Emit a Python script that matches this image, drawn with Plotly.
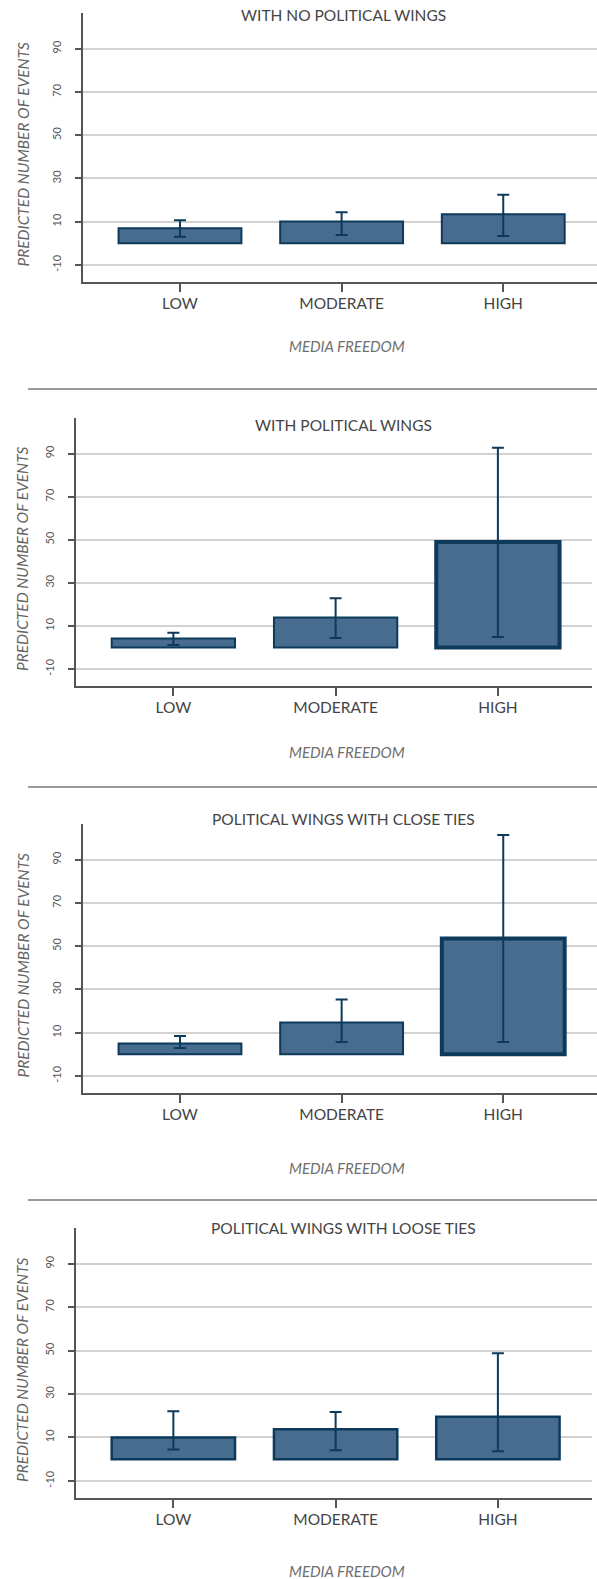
import plotly.graph_objects as go

# ---------------- data ----------------
categories = ["LOW", "MODERATE", "HIGH"]
panel_titles = ["WITH NO POLITICAL WINGS", "WITH POLITICAL WINGS",
                "POLITICAL WINGS WITH CLOSE TIES", "POLITICAL WINGS WITH LOOSE TIES"]

no_wings_value = [7.0, 10.1, 13.4]
no_wings_upper = [10.7, 14.4, 22.4]
no_wings_lower = [3.0, 3.8, 3.4]

wings_value = [4.2, 13.9, 48.9]
wings_upper = [6.8, 22.8, 92.7]
wings_lower = [1.1, 4.4, 4.9]

close_value = [5.0, 14.7, 53.5]
close_upper = [8.5, 25.3, 101.4]
close_lower = [2.9, 5.7, 5.7]

loose_value = [10.0, 13.8, 19.5]
loose_upper = [22.1, 21.7, 48.8]
loose_lower = [4.5, 4.1, 3.6]

y_tickvals = [-10, 10, 30, 50, 70, 90]
y_ticktext = ["-10", "10", "30", "50", "70", "90"]
x_title = "MEDIA FREEDOM"
y_title = "PREDICTED NUMBER OF EVENTS"

series = [
    (no_wings_value, no_wings_upper, no_wings_lower),
    (wings_value, wings_upper, wings_lower),
    (close_value, close_upper, close_lower),
    (loose_value, loose_upper, loose_lower),
]

# ---------------- layout / style ----------------
W, H = 597, 1579
FONT = "Lato"
BAR_FILL = "#476c8e"
BAR_LINE = "#0d3a5a"
AXIS_COL = "#555555"
GRID_COL = "#d2d2d2"

# pixel geometry of each panel: x0, x1, y_top, y_bottom, title_y, xtitle_y
geom = [
    (83, 597, 13, 282, 15, 346),
    (76, 592, 418, 686, 425, 752),
    (83, 597, 824, 1093, 819, 1168),
    (76, 592, 1228, 1498, 1228, 1571),
]
line_widths = [[2, 2, 2], [2, 2, 4], [2, 2, 4], [2.5, 2.5, 2.5]]
separators_y = [389, 787, 1200]


def fx(p):
    return p / W


def fy(p):
    return 1 - p / H


fig = go.Figure()
annotations = []
shapes = []
layout_axes = {}

for i, ((vals, ups, lows), g) in enumerate(zip(series, geom)):
    x0, x1, yt, yb, ty, xty = g
    n = "" if i == 0 else str(i + 1)
    xa, ya = "x" + n, "y" + n
    err_plus = [u - v for u, v in zip(ups, vals)]
    err_minus = [v - l for v, l in zip(vals, lows)]
    fig.add_trace(go.Bar(
        x=categories, y=vals, xaxis=xa, yaxis=ya, width=0.76,
        marker=dict(color=BAR_FILL, line=dict(color=BAR_LINE, width=line_widths[i])),
        error_y=dict(type="data", symmetric=False, array=err_plus, arrayminus=err_minus,
                     color=BAR_LINE, thickness=2, width=6),
        showlegend=False, hoverinfo="skip",
    ))
    layout_axes["xaxis" + n] = dict(
        domain=[fx(x0), fx(x1)], anchor=ya, type="category",
        range=[-0.6, 2.58], showline=True, linecolor=AXIS_COL, linewidth=2,
        ticks="outside", ticklen=8, tickwidth=2, tickcolor=AXIS_COL,
        showgrid=False, zeroline=False, ticklabelstandoff=-2,
        tickfont=dict(family=FONT, size=15.5, color="#444444"),
    )
    layout_axes["yaxis" + n] = dict(
        domain=[fy(yb), fy(yt)], anchor=xa, range=[-17.9, 106.5],
        tickvals=y_tickvals, ticktext=y_ticktext,
        showline=True, linecolor=AXIS_COL, linewidth=2,
        ticks="outside", ticklen=6, tickwidth=2, tickcolor=AXIS_COL,
        showgrid=True, gridcolor=GRID_COL, gridwidth=1.5, zeroline=False,
        tickangle=-90, ticklabelstandoff=10,
        tickfont=dict(family=FONT, size=11, color="#555555"),
    )
    annotations.append(dict(
        text=panel_titles[i], x=fx(343), y=fy(ty), xref="paper", yref="paper",
        showarrow=False, xanchor="center", yanchor="middle",
        font=dict(family=FONT, size=15.5, color="#454545")))
    annotations.append(dict(
        text="<i>" + y_title + "</i>", x=fx(22), y=fy((yt + yb) / 2 + 7),
        xref="paper", yref="paper", showarrow=False, textangle=-90,
        xanchor="center", yanchor="middle",
        font=dict(family=FONT, size=15.5, color="#666666")))
    annotations.append(dict(
        text="<i>" + x_title + "</i>", x=fx(347), y=fy(xty),
        xref="paper", yref="paper", showarrow=False,
        xanchor="center", yanchor="middle",
        font=dict(family=FONT, size=15, color="#707070")))

for sy in separators_y:
    shapes.append(dict(type="line", xref="paper", yref="paper",
                       x0=fx(28), x1=1, y0=fy(sy), y1=fy(sy),
                       line=dict(color="#9a9a9a", width=2)))

fig.update_layout(
    width=W, height=H, margin=dict(l=0, r=0, t=0, b=0),
    paper_bgcolor="white", plot_bgcolor="white",
    annotations=annotations, shapes=shapes, bargap=0.24,
    **layout_axes,
)

fig.write_html("out.html", config={"displayModeBar": False},
               post_script="document.body.style.margin='0';")
